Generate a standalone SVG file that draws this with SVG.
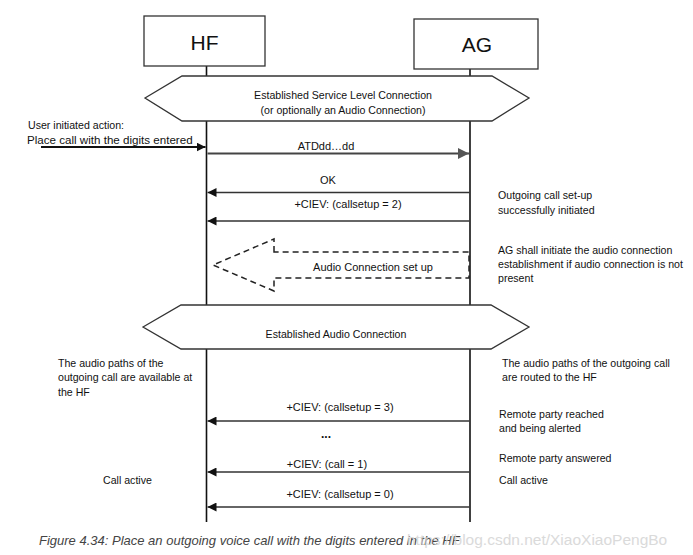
<svg xmlns="http://www.w3.org/2000/svg" width="693" height="555" viewBox="0 0 693 555">
<defs>
<style>
text{font-family:"Liberation Sans",Arial,sans-serif;fill:#111;}
.lbl{font-size:11px;}
.note{font-size:10.6px;}
.title{font-size:21px;text-anchor:middle;}
.mid{text-anchor:middle;}
.box{fill:#fff;stroke:#333;stroke-width:1.3;}
.life{stroke:#111;stroke-width:1.6;fill:none;}
.msg{stroke:#333;stroke-width:1.3;fill:none;marker-end:url(#ah);}
.msgin{stroke:#111;stroke-width:2;fill:none;marker-end:url(#ah);}
.msgb{stroke:#444;stroke-width:2.2;fill:none;marker-end:url(#ahb);}
.hex{fill:#fff;stroke:#333;stroke-width:1.3;}
.dash{fill:none;stroke:#222;stroke-width:1.5;stroke-dasharray:6 4;}
.cap{font-size:13px;font-style:italic;fill:#444;}
.wm{font-size:15.5px;fill:#d4d4d4;opacity:0.85;}
</style>
<marker id="ah" viewBox="0 0 10 10" refX="10" refY="5" markerWidth="9" markerHeight="9" markerUnits="userSpaceOnUse" orient="auto">
<path d="M0,0 L10,5 L0,10 z" fill="#111"/>
</marker>
<marker id="ahb" viewBox="0 0 10 10" refX="10" refY="5" markerWidth="11" markerHeight="11" markerUnits="userSpaceOnUse" orient="auto">
<path d="M0,0 L10,5 L0,10 z" fill="#555"/>
</marker>
</defs>
<rect width="693" height="555" fill="#fff"/>

<g id="lifelines">
<line class="life" x1="206.5" y1="66" x2="206.5" y2="522"/>
<line class="life" x1="470" y1="69" x2="470" y2="522"/>
</g>

<g id="node-HF">
<rect class="box" x="144" y="16" width="121" height="50"/>
<text class="title" x="204.5" y="50">HF</text>
</g>
<g id="node-AG">
<rect class="box" x="414" y="19" width="124" height="50"/>
<text class="title" x="477" y="52">AG</text>
</g>

<g id="hex-slc">
<polygon class="hex" points="145,98 182,76 492,76 529,98 492,121 182,121"/>
<text class="note mid" x="343" y="99">Established Service Level Connection</text>
<text class="note mid" x="343" y="113.5">(or optionally an Audio Connection)</text>
</g>

<g id="hex-audio">
<polygon class="hex" points="143,327 181,305 491,305 529,327 491,349 181,349"/>
<text class="note mid" x="336" y="337.5">Established Audio Connection</text>
</g>

<g id="connectors">
<line class="msgin" x1="41" y1="147" x2="205.5" y2="147"/>
<line class="msgb" x1="207.5" y1="153.5" x2="469" y2="153.5"/>
<line class="msg" x1="469.5" y1="192.5" x2="207.5" y2="192.5"/>
<line class="msg" x1="469.5" y1="221" x2="207.5" y2="221"/>
<line class="msg" x1="469.5" y1="421" x2="207.5" y2="421"/>
<line class="msg" x1="469.5" y1="472" x2="207.5" y2="472"/>
<line class="msg" x1="469.5" y1="507" x2="207.5" y2="507"/>
<path class="dash" d="M274,252 L274,239 L213,265 L274,291 L274,278 L469,278 L469,252 Z"/>
</g>

<g id="labels">
<text class="note" x="28" y="129">User initiated action:</text>
<text class="note" x="27" y="143.5" style="font-size:11.6px">Place call with the digits entered</text>
<text class="lbl mid" x="326" y="150">ATDdd…dd</text>
<text class="lbl mid" x="328" y="184">OK</text>
<text class="lbl mid" x="348" y="208">+CIEV: (callsetup = 2)</text>
<text class="lbl mid" x="373" y="271">Audio Connection set up</text>
<text class="lbl mid" x="340" y="411">+CIEV: (callsetup = 3)</text>
<text class="lbl mid" x="326" y="438" style="font-weight:bold;font-size:12px">...</text>
<text class="lbl mid" x="327" y="468">+CIEV: (call = 1)</text>
<text class="lbl mid" x="340" y="498">+CIEV: (callsetup = 0)</text>

<text class="note" x="498" y="198.5">Outgoing call set-up</text>
<text class="note" x="498" y="213.5">successfully initiated</text>
<text class="note" x="498" y="253.5">AG shall initiate the audio connection</text>
<text class="note" x="498" y="267.5">establishment if audio connection is not</text>
<text class="note" x="498" y="281.5">present</text>

<text class="note" x="58" y="366.5">The audio paths of the</text>
<text class="note" x="58" y="381">outgoing call are available at</text>
<text class="note" x="58" y="395.5">the HF</text>
<text class="note" x="502" y="366.5">The audio paths of the outgoing call</text>
<text class="note" x="502" y="381">are routed to the HF</text>

<text class="note" x="499" y="417.5">Remote party reached</text>
<text class="note" x="499" y="431.5">and being alerted</text>
<text class="note" x="499" y="461.5">Remote party answered</text>
<text class="note" x="103" y="483.5">Call active</text>
<text class="note" x="499" y="483.5">Call active</text>
</g>

<text class="cap" x="39" y="545">Figure 4.34: Place an outgoing voice call with the digits entered in the HF</text>
<text class="wm" x="407" y="545">https://blog.csdn.net/XiaoXiaoPengBo</text>
</svg>
